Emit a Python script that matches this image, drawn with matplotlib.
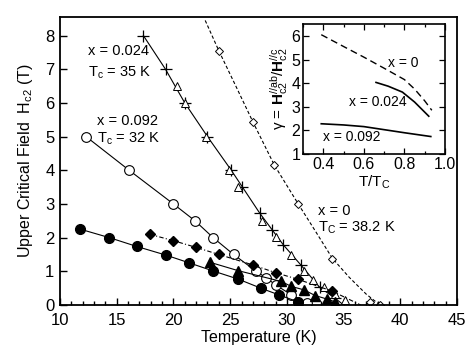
import matplotlib
matplotlib.use('Agg')
import matplotlib.pyplot as plt
from matplotlib.ticker import MultipleLocator

plt.rcParams.update({'font.family': ['Liberation Sans', 'DejaVu Sans'],
                     'mathtext.fontset': 'custom',
                     'mathtext.rm': 'Liberation Sans',
                     'mathtext.it': 'Liberation Sans',
                     'mathtext.bf': 'Liberation Sans:bold'})

# x = 0.024 (crosses and open triangles)
t_cross = [17.35, 19.3, 21.0, 23.0, 25.1, 26.0, 27.6, 28.7, 29.7, 31.2, 32.9, 34.25]
h_cross = [8.0, 7.0, 6.0, 5.0, 4.0, 3.5, 2.73, 2.24, 1.78, 1.2, 0.52, 0.2]
t_otri = [20.3, 21.0, 22.9, 24.9, 25.7, 27.8, 29.0, 30.4, 31.5, 32.3, 33.3, 34.2, 35.1]
h_otri = [6.5, 6.0, 5.0, 4.0, 3.5, 2.5, 2.03, 1.48, 1.0, 0.75, 0.53, 0.33, 0.15]
t_line024 = [17.35, 19.3, 21.0, 23.0, 25.1, 27.6, 29.7, 31.2, 32.9, 34.25, 35.0]
h_line024 = [8.0, 7.0, 6.0, 5.0, 4.0, 2.73, 1.78, 1.2, 0.52, 0.2, 0.0]

# x = 0.092 (open circles)
t_ocirc = [12.3, 16.1, 20.0, 21.9, 23.5, 25.3, 27.3, 28.2, 29.0, 30.4, 31.8]
h_ocirc = [5.0, 4.0, 3.0, 2.5, 2.0, 1.5, 1.0, 0.8, 0.6, 0.3, 0.06]

# other samples (filled symbols)
t_fcirc = [11.8, 14.35, 16.75, 19.35, 21.4, 23.5, 25.7, 27.7, 29.3, 31.0]
h_fcirc = [2.25, 2.0, 1.74, 1.48, 1.25, 1.01, 0.77, 0.5, 0.3, 0.09]
t_fdia = [17.9, 20.0, 22.0, 24.0, 27.0, 29.0, 31.0, 34.0]
h_fdia = [2.1, 1.91, 1.71, 1.5, 1.19, 0.96, 0.76, 0.41]
t_fdia_line = [17.9, 20.0, 22.0, 24.0, 27.0, 29.0, 31.0, 34.0, 36.5]
h_fdia_line = [2.1, 1.91, 1.71, 1.5, 1.19, 0.96, 0.76, 0.41, 0.0]
t_ftri = [23.2, 25.7, 29.5, 30.4, 31.5, 32.5, 33.5, 34.2]
h_ftri = [1.27, 1.02, 0.7, 0.55, 0.45, 0.28, 0.18, 0.1]

# x = 0 (open diamonds + dashed fit)
t_odia = [24.0, 27.0, 28.9, 31.0, 34.0, 37.3, 38.2]
h_odia = [7.55, 5.44, 4.15, 3.0, 1.38, 0.08, 0.0]
t_line0 = [22.8, 24.0, 25.5, 27.0, 28.9, 31.0, 32.5, 34.0, 35.5, 37.0, 38.2]
h_line0 = [8.45, 7.55, 6.5, 5.44, 4.15, 3.0, 2.2, 1.39, 0.82, 0.32, 0.0]

# inset: anisotropy vs T/Tc
r_x0 = [0.39, 0.5, 0.6, 0.7, 0.8, 0.85, 0.9, 0.935]
g_x0 = [6.05, 5.55, 5.1, 4.63, 4.15, 3.75, 3.25, 2.85]
r_x024 = [0.66, 0.72, 0.79, 0.85, 0.92]
g_x024 = [4.03, 3.87, 3.62, 3.2, 2.6]
r_x092 = [0.39, 0.5, 0.6, 0.7, 0.8, 0.93]
g_x092 = [2.28, 2.23, 2.16, 2.03, 1.9, 1.74]

fig = plt.figure(figsize=(4.71, 3.64), dpi=100)
ax = fig.add_axes([0.1274, 0.1621, 0.843, 0.791])

lw = 0.8
ax.plot(t_line0, h_line0, '--', color='black', lw=lw, dashes=(3, 2))
ax.plot(t_odia, h_odia, 'D', ms=4, mfc='white', mec='black', mew=0.7, ls='none')
ax.plot(t_line024, h_line024, '-', color='black', lw=lw)
ax.plot(t_cross, h_cross, '+', ms=8, color='black', mew=0.9, ls='none')
ax.plot(t_otri, h_otri, '^', ms=6, mfc='white', mec='black', mew=0.7, ls='none')
ax.plot(t_ocirc, h_ocirc, '-o', ms=7, mfc='white', mec='black', mew=0.8, color='black', lw=lw)
ax.plot(t_fdia_line, h_fdia_line, color='black', lw=lw, dashes=(4, 2, 1, 2))
ax.plot(t_fdia, h_fdia, 'D', ms=5.5, color='black', ls='none')
ax.plot(t_ftri, h_ftri, '-^', ms=6.5, color='black', lw=lw)
ax.plot(t_fcirc, h_fcirc, '-o', ms=7, color='black', lw=lw)

ax.set_xlim(10, 45)
ax.set_ylim(0, 8.55)
ax.xaxis.set_major_locator(MultipleLocator(5))
ax.xaxis.set_minor_locator(MultipleLocator(1))
ax.yaxis.set_major_locator(MultipleLocator(1))
ax.tick_params(which='both', direction='in', labelsize=12, width=1.0)
ax.tick_params(axis='x', pad=5.5)
ax.tick_params(axis='y', pad=4)
ax.tick_params(which='major', length=5)
ax.tick_params(which='minor', length=3)
for s in ax.spines.values():
    s.set_linewidth(1.3)
ax.set_xlabel('Temperature (K)', fontsize=11.5, labelpad=2)
ax.set_ylabel('Upper Critical Field  H$_{c2}$ (T)', fontsize=11.5, labelpad=7)

ax.text(12.5, 7.55, 'x = 0.024', fontsize=10.5, va='center')
ax.text(12.5, 6.9, 'T$_c$ = 35 K', fontsize=10.5, va='center')
ax.text(13.3, 5.45, 'x = 0.092', fontsize=10.5, va='center')
ax.text(13.3, 4.95, 'T$_c$ = 32 K', fontsize=10.5, va='center')
ax.text(32.75, 2.8, 'x = 0', fontsize=10.5, va='center')
ax.text(32.75, 2.3, 'T$_C$ = 38.2 K', fontsize=10.5, va='center')

ins = fig.add_axes([0.6433, 0.5769, 0.3015, 0.357])
ins.plot(r_x0, g_x0, color='black', lw=1.0, dashes=(5, 3))
ins.plot(r_x024, g_x024, '-', color='black', lw=1.2)
ins.plot(r_x092, g_x092, '-', color='black', lw=1.2)
ins.set_xlim(0.3, 1.0)
ins.set_ylim(1, 6.5)
ins.set_xticks([0.4, 0.6, 0.8, 1.0])
ins.set_xticklabels(['0.4', '0.6', '0.8', '1.0'])
ins.xaxis.set_minor_locator(MultipleLocator(0.1))
ins.yaxis.set_major_locator(MultipleLocator(1))
ins.tick_params(which='both', direction='in', top=True, right=True,
                labelsize=11.5, width=0.9, pad=2)
ins.tick_params(which='major', length=4)
ins.tick_params(which='minor', length=2.5)
for s in ins.spines.values():
    s.set_linewidth(1.2)
ins.set_xlabel('T/T$_C$', fontsize=11, labelpad=1)
ins.set_ylabel(r'$\gamma$ = $\mathbf{H}_{c2}^{//ab}$/$\mathbf{H}_{c2}^{//c}$',
               fontsize=11, labelpad=1)
ins.text(0.719, 4.85, 'x = 0', fontsize=10, va='center')
ins.text(0.527, 3.22, 'x = 0.024', fontsize=10, va='center')
ins.text(0.397, 1.73, 'x = 0.092', fontsize=10, va='center')

fig.savefig('out.png', dpi=100)
